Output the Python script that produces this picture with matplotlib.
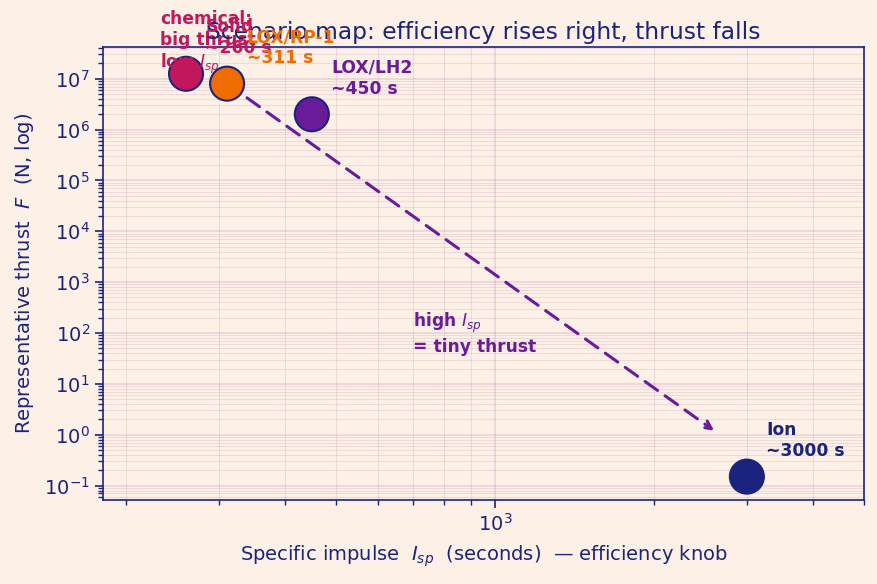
import matplotlib
matplotlib.use("Agg")
import matplotlib.pyplot as plt

# data
names = ["Solid", "LOX/RP-1", "LOX/LH2", "Ion"]
isp = [260, 311, 450, 3000]
thrust = [1.25e7, 8.0e6, 2.0e6, 0.15]
labels = ["Solid\n~260 s", "LOX/RP-1\n~311 s", "LOX/LH2\n~450 s", "Ion\n~3000 s"]
colors = ["#c2185b", "#ef6c00", "#6a1b9a", "#1a237e"]
label_colors = ["#c2185b", "#ef6c00", "#6a1b9a", "#1a237e"]
arrow_start = (311, 8.0e6)
arrow_end = (2600, 1.2)

navy = "#1a237e"
bg = "#fdf1e7"

fig = plt.figure(figsize=(8.77, 5.84), dpi=100, facecolor=bg)
ax = fig.add_axes([0.1174, 0.1438, 0.8678, 0.7757], facecolor=bg)
ax.set_xscale("log")
ax.set_yscale("log")
ax.set_xlim(181, 5000)
ax.set_ylim(0.052, 4.2e7)

ax.grid(True, which="major", color="#7a2a8a", alpha=0.14, lw=1.3)
ax.grid(True, which="minor", color="#8a3a7a", alpha=0.12, lw=0.8)
ax.set_axisbelow(True)

ax.annotate("", xy=arrow_end, xytext=arrow_start,
            arrowprops=dict(arrowstyle="->", color="#6a1b9a", lw=2.2,
                            linestyle=(0, (5, 3)), shrinkA=0, shrinkB=0,
                            mutation_scale=14), zorder=2)

ax.scatter(isp, thrust, s=600, c=colors, edgecolors=navy, linewidths=1.5, zorder=3)

for x, y, lab, c in zip(isp, thrust, labels, label_colors):
    ax.annotate(lab, xy=(x, y), xytext=(14, 12), textcoords="offset points",
                ha="left", va="bottom", fontsize=12.3, fontweight="bold", color=c,
                zorder=4)

ax.text(0.075, 0.935, "chemical;\nbig thrust\nlow $I_{sp}$", transform=ax.transAxes,
        ha="left", va="bottom", fontsize=12.3, fontweight="bold", color="#c2185b")
ax.text(700, 100, "high $I_{sp}$\n= tiny thrust", ha="left", va="center",
        fontsize=12.3, fontweight="bold", color="#6a1b9a")

ax.set_title("Scenario map: efficiency rises right, thrust falls", fontsize=16.8,
             color=navy, pad=6)
ax.set_xlabel("Specific impulse  $I_{sp}$  (seconds)  — efficiency knob", fontsize=14,
              color=navy, labelpad=6)
ax.set_ylabel("Representative thrust  $F$  (N, log)", fontsize=14, color=navy, labelpad=6)

for s in ax.spines.values():
    s.set_color(navy)
    s.set_linewidth(1.2)
ax.tick_params(which="both", colors=navy, labelsize=14)
ax.tick_params(which="major", length=6, width=1.2)
ax.tick_params(which="minor", length=3.5, width=1)

fig.savefig("out.png", dpi=100, facecolor=bg)
